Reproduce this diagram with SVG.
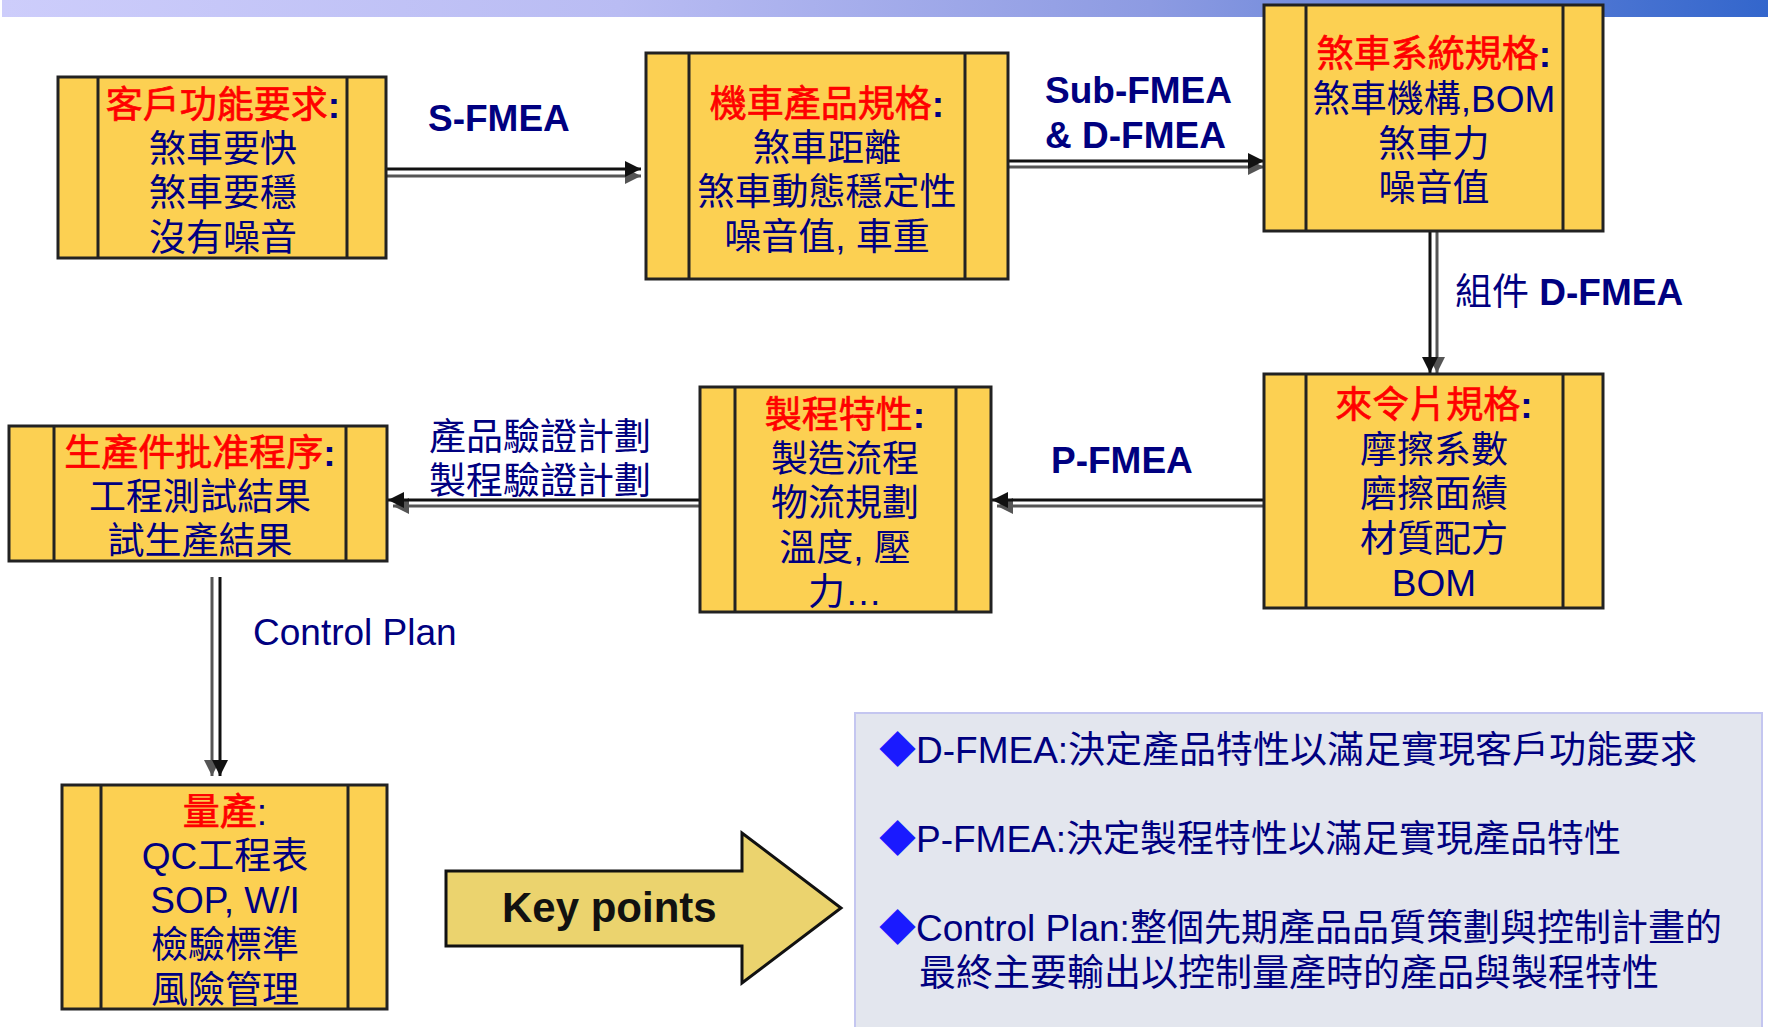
<svg xmlns="http://www.w3.org/2000/svg" width="1768" height="1027" viewBox="0 0 1768 1027">
<defs>
<linearGradient id="bar" x1="0" y1="0" x2="1" y2="0">
<stop offset="0" stop-color="#cdcdfb"/>
<stop offset="0.35" stop-color="#b9bcf3"/>
<stop offset="0.65" stop-color="#8d9be2"/>
<stop offset="1" stop-color="#3366cc"/>
</linearGradient>
<marker id="ab" markerUnits="userSpaceOnUse" markerWidth="18" markerHeight="16" refX="16" refY="8" orient="auto">
<path d="M0,0 L16,8 L0,16 Z" fill="#111"/>
</marker>
<marker id="ag" markerUnits="userSpaceOnUse" markerWidth="18" markerHeight="16" refX="16" refY="8" orient="auto">
<path d="M0,0 L16,8 L0,16 Z" fill="#555"/>
</marker>
<style>
.box{fill:#fcd052;stroke:#222;stroke-width:3}
.div{stroke:#222;stroke-width:3}
.t{font-family:"Liberation Sans","Noto Sans CJK TC",sans-serif;font-size:37px;fill:#000080;text-anchor:middle}
.ttl{fill:#ff0000;stroke:#ff0000;stroke-width:0.7}
.col{fill:#000080;font-weight:bold}
.lbl{font-family:"Liberation Sans","Noto Sans CJK TC",sans-serif;font-size:37px;fill:#000080}
.b{font-weight:bold}
.lb{stroke:#111;stroke-width:3;fill:none}
.lg{stroke:#555;stroke-width:3;fill:none}
.pt{font-family:"Liberation Sans","Noto Sans CJK TC",sans-serif;font-size:37px;fill:#000080}
.dm{fill:#1a1aff}
</style>
</defs>
<rect x="0" y="0" width="1768" height="1027" fill="#ffffff"/>
<rect x="2" y="0" width="1766" height="17" fill="url(#bar)"/>

<g id="connectors">
<line class="lg" x1="386" y1="176" x2="641" y2="176" marker-end="url(#ag)"/>
<line class="lb" x1="386" y1="169" x2="641" y2="169" marker-end="url(#ab)"/>
<line class="lg" x1="1008" y1="167" x2="1264" y2="167" marker-end="url(#ag)"/>
<line class="lb" x1="1008" y1="161" x2="1264" y2="161" marker-end="url(#ab)"/>
<line class="lg" x1="1437" y1="231" x2="1437" y2="373" marker-end="url(#ag)"/>
<line class="lb" x1="1430" y1="231" x2="1430" y2="373" marker-end="url(#ab)"/>
<line class="lg" x1="1269" y1="506" x2="997" y2="506" marker-end="url(#ag)"/>
<line class="lb" x1="1269" y1="500" x2="992" y2="500" marker-end="url(#ab)"/>
<line class="lg" x1="705" y1="506" x2="393" y2="506" marker-end="url(#ag)"/>
<line class="lb" x1="705" y1="500" x2="388" y2="500" marker-end="url(#ab)"/>
<line class="lg" x1="212" y1="577" x2="212" y2="776" marker-end="url(#ag)"/>
<line class="lb" x1="220" y1="577" x2="220" y2="776" marker-end="url(#ab)"/>
<text class="lbl b" x="428" y="131" font-size="38">S-FMEA</text>
<text class="lbl b" x="1045" y="103">Sub-FMEA</text>
<text class="lbl b" x="1045" y="148">&amp; D-FMEA</text>
<text class="lbl" x="1455" y="305">組件 <tspan class="b">D-FMEA</tspan></text>
<text class="lbl b" x="1051" y="473">P-FMEA</text>
<text class="lbl" x="429" y="450">產品驗證計劃</text>
<text class="lbl" x="429" y="494">製程驗證計劃</text>
<text class="lbl" x="253" y="645">Control Plan</text>
</g>

<g id="n1">
<rect class="box" x="58" y="77" width="328" height="181"/>
<line class="div" x1="98" y1="77" x2="98" y2="258"/>
<line class="div" x1="347" y1="77" x2="347" y2="258"/>
<text class="t" x="223" y="118"><tspan class="ttl">客戶功能要求</tspan><tspan class="col">:</tspan></text>
<text class="t" x="223" y="162">煞車要快</text>
<text class="t" x="223" y="206">煞車要穩</text>
<text class="t" x="223" y="251">沒有噪音</text>
</g>

<g id="n2">
<rect class="box" x="646" y="53" width="362" height="226"/>
<line class="div" x1="689" y1="53" x2="689" y2="279"/>
<line class="div" x1="965" y1="53" x2="965" y2="279"/>
<text class="t" x="827" y="117"><tspan class="ttl">機車產品規格</tspan><tspan class="col">:</tspan></text>
<text class="t" x="827" y="161">煞車距離</text>
<text class="t" x="827" y="205">煞車動態穩定性</text>
<text class="t" x="827" y="250">噪音值, 車重</text>
</g>

<g id="n3">
<rect class="box" x="1264" y="5" width="339" height="226"/>
<line class="div" x1="1306" y1="5" x2="1306" y2="231"/>
<line class="div" x1="1563" y1="5" x2="1563" y2="231"/>
<text class="t" x="1434" y="67"><tspan class="ttl">煞車系統規格</tspan><tspan class="col">:</tspan></text>
<text class="t" x="1434" y="112">煞車機構,BOM</text>
<text class="t" x="1434" y="157">煞車力</text>
<text class="t" x="1434" y="201">噪音值</text>
</g>

<g id="n4">
<rect class="box" x="1264" y="374" width="339" height="234"/>
<line class="div" x1="1306" y1="374" x2="1306" y2="608"/>
<line class="div" x1="1563" y1="374" x2="1563" y2="608"/>
<text class="t" x="1434" y="418"><tspan class="ttl">來令片規格</tspan><tspan class="col">:</tspan></text>
<text class="t" x="1434" y="463">摩擦系數</text>
<text class="t" x="1434" y="507">磨擦面績</text>
<text class="t" x="1434" y="552">材質配方</text>
<text class="t" x="1434" y="596">BOM</text>
</g>

<g id="n5">
<rect class="box" x="700" y="387" width="291" height="225"/>
<line class="div" x1="735" y1="387" x2="735" y2="612"/>
<line class="div" x1="956" y1="387" x2="956" y2="612"/>
<text class="t" x="845" y="428"><tspan class="ttl">製程特性</tspan><tspan class="col">:</tspan></text>
<text class="t" x="845" y="472">製造流程</text>
<text class="t" x="845" y="516">物流規劃</text>
<text class="t" x="845" y="561">溫度, 壓</text>
<text class="t" x="845" y="605">力…</text>
</g>

<g id="n6">
<rect class="box" x="9" y="426" width="378" height="135"/>
<line class="div" x1="54" y1="426" x2="54" y2="561"/>
<line class="div" x1="346" y1="426" x2="346" y2="561"/>
<text class="t" x="200" y="466"><tspan class="ttl">生產件批准程序</tspan><tspan class="col">:</tspan></text>
<text class="t" x="200" y="510">工程測試結果</text>
<text class="t" x="200" y="554">試生產結果</text>
</g>

<g id="n7">
<rect class="box" x="62" y="785" width="325" height="224"/>
<line class="div" x1="101" y1="785" x2="101" y2="1009"/>
<line class="div" x1="348" y1="785" x2="348" y2="1009"/>
<text class="t" x="225" y="825"><tspan class="ttl">量產</tspan><tspan fill="#000080">:</tspan></text>
<text class="t" x="225" y="869">QC工程表</text>
<text class="t" x="225" y="913">SOP, W/I</text>
<text class="t" x="225" y="958">檢驗標準</text>
<text class="t" x="225" y="1003">風險管理</text>
</g>

<g id="keypoints">
<path d="M446,871 L742,871 L742,833 L841,908 L742,983 L742,946 L446,946 Z" fill="#ebd36e" stroke="#111" stroke-width="3"/>
<text x="502" y="922" font-family="Liberation Sans, sans-serif" font-size="42" font-weight="bold" fill="#111">Key points</text>
</g>

<g id="panel">
<rect x="855" y="713" width="907" height="330" fill="#e3e6ee" stroke="#c4c6f0" stroke-width="2"/>
<text class="pt" x="879" y="763"><tspan class="dm">◆</tspan>D-FMEA:決定產品特性以滿足實現客戶功能要求</text>
<text class="pt" x="879" y="852"><tspan class="dm">◆</tspan>P-FMEA:決定製程特性以滿足實現產品特性</text>
<text class="pt" x="879" y="941"><tspan class="dm">◆</tspan>Control Plan:整個先期產品品質策劃與控制計畫的</text>
<text class="pt" x="919" y="986">最終主要輸出以控制量產時的產品與製程特性</text>
</g>
</svg>
